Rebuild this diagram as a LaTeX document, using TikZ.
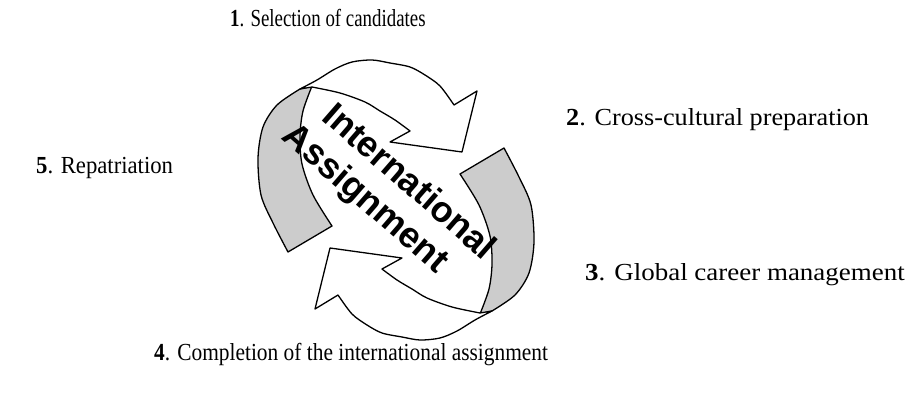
\documentclass[tikz,border=0pt]{standalone}
\usepackage{fontspec}
\setmainfont{Liberation Serif}
\newfontfamily\ringfont{Liberation Sans}
\newcommand{\steplabel}[3]{\scalebox{#1}[1]{\textbf{#2}. #3}}
\begin{document}
\begin{tikzpicture}[x=1pt,y=-1pt,
        ringface/.style={draw, fill=white, line width=1.3pt, line join=round},
        ringside/.style={draw, fill=black!20, line width=1.3pt, line join=round},
        steptext/.style={anchor=base west, inner sep=0pt, font=\fontsize{24.5}{28}\selectfont},
        ringtext/.style={rotate=-41, inner sep=0pt, align=center, font=\ringfont\bfseries\fontsize{36}{41}\selectfont}]
        \useasboundingbox (0,0) rectangle (906,396);

        \foreach \turn in {0,180} {
            \begin{scope}[rotate around={\turn:(396,200)}]
                \draw[ringside] plot[smooth] coordinates {(300,89) (277,105) (263,127) (258,158) (261,195) (273,223) (288,252)}
                    -- (332,226) -- plot[smooth] coordinates {(332,226) (313,195) (302,164) (300,136) (303,111) (312,86)} -- cycle;
                \draw[ringface] plot[smooth] coordinates {(300,89) (317,80) (335,69) (352,62) (372,60) (390,63) (410,67) (425,75) (440,86) (454,105)}
                    -- (477,91) -- (462,152) -- (390,142) -- plot[smooth] coordinates {(410,131) (395,120) (380,111) (365,102) (340,93) (312,87)} -- cycle;
            \end{scope}
        }

        \node[ringtext] at (378,184) (assignment) {\hspace*{44pt}International\\Assignment};

        \node[steptext] at (230,27) (selection) {\steplabel{0.77}{1}{Selection of candidates}};
        \node[steptext] at (566,125) (preparation) {\steplabel{1.07}{2}{Cross-cultural preparation}};
        \node[steptext] at (585,280) (career) {\steplabel{1.1}{3}{Global career management}};
        \node[steptext] at (154,360) (completion) {\steplabel{0.873}{4}{Completion of the international assignment}};
        \node[steptext] at (36,173) (repatriation) {\steplabel{0.927}{5}{Repatriation}};
\end{tikzpicture}
\end{document}
